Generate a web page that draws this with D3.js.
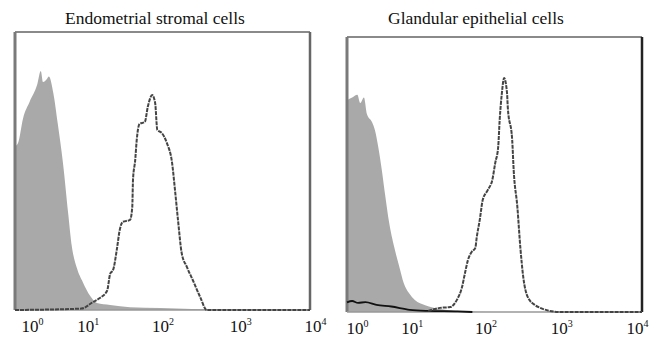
<!DOCTYPE html>
<html>
<head>
<meta charset="utf-8">
<script src="https://cdn.jsdelivr.net/npm/d3@7"></script>
<style>
  html, body { margin: 0; padding: 0; background: #fff; }
  svg { display: block; }
</style>
</head>
<body>
<svg id="chart" width="650" height="347"></svg>
<script>
// x values are decade exponents (10^x fluorescence), y values are relative cell counts (0-100)
const decades = [0, 1, 2, 3, 4];
const panelTitles = ['Endometrial stromal cells', 'Glandular epithelial cells'];

// Endometrial stromal cells: isotype control (filled) and stained (open)
const stromalControl = [
  [0, 59], [0.04, 60], [0.11, 69], [0.2, 75], [0.3, 81], [0.35, 86], [0.38, 82],
  [0.43, 83], [0.46, 84], [0.52, 78], [0.58, 67], [0.65, 53], [0.72, 35],
  [0.77, 23], [0.84, 15], [0.92, 10], [1.02, 5], [1.11, 2.5], [1.29, 1.8],
  [1.56, 1], [1.97, 0.7], [2.4, 0.4], [3, 0.2], [4, 0]
];
const stromalStained = [
  [0, 0], [0.9, 0.5], [1.06, 2.9], [1.15, 4.3], [1.25, 7], [1.29, 13], [1.33, 14.4],
  [1.38, 21.6], [1.42, 28.8], [1.46, 31.7], [1.56, 32.4], [1.59, 37], [1.6, 46.8],
  [1.63, 54], [1.65, 61], [1.69, 67], [1.76, 67.6], [1.8, 73], [1.86, 77.3],
  [1.9, 74.5], [1.93, 64.7], [1.99, 63.7], [2.06, 60], [2.13, 52.9], [2.17, 43],
  [2.21, 32.4], [2.26, 20.5], [2.33, 15.5], [2.41, 10.8], [2.51, 4.7], [2.6, 0],
  [4, 0]
];

// Glandular epithelial cells: isotype control (filled), unstained (black) and stained (open)
const glandControl = [
  [0, 77], [0.07, 78], [0.14, 79], [0.18, 76], [0.23, 78], [0.27, 72], [0.34, 69],
  [0.38, 66], [0.43, 59], [0.47, 52], [0.52, 42], [0.57, 32.7], [0.64, 23.6],
  [0.71, 16.4], [0.77, 10.5], [0.84, 6.9], [0.92, 4.4], [1.06, 2.5], [1.26, 1.1],
  [1.53, 0.4], [2, 0], [4, 0]
];
const glandBlank = [
  [0, 3.5], [0.07, 4], [0.15, 3.3], [0.25, 3.6], [0.4, 2.6], [0.6, 2],
  [0.85, 0.8], [1.1, 0.4], [1.5, 0.2], [1.7, 0]
];
const glandStained = [
  [1.1, 0.4], [1.26, 1.5], [1.4, 1.8], [1.49, 4.4], [1.56, 9.1], [1.6, 14.2],
  [1.64, 18.9], [1.69, 21.8], [1.74, 23.3], [1.76, 27.3], [1.8, 33.5], [1.84, 40.7],
  [1.91, 44.4], [1.97, 48], [2.01, 54.2], [2.05, 60], [2.07, 69.8], [2.1, 79.6],
  [2.13, 85.1], [2.17, 79.6], [2.18, 74.5], [2.24, 62.5], [2.26, 51.6], [2.31, 38.2],
  [2.35, 23.6], [2.39, 12.7], [2.45, 5.5], [2.55, 2.5], [2.62, 1.5], [2.75, 0.4],
  [2.9, 0], [4, 0]
];

const panels = [
  { left: 15, right: 310, top: 32, bottom: 310, titleX: 50, titleY: 24,
    labelShift: [17, -1, 0, 4, 5], rightEdge: '#666',
    filled: stromalControl, open: stromalStained, solid: null },
  { left: 347, right: 642, top: 37, bottom: 312, titleX: 41, titleY: 24,
    labelShift: [10, -9, -9, -7, -5], rightEdge: '#222',
    filled: glandControl, open: glandStained, solid: glandBlank }
];

const svg = d3.select('#chart');
const serif = "'Liberation Serif', 'Times New Roman', serif";

panels.forEach((p, i) => {
  const w = p.right - p.left;
  const h = p.bottom - p.top;
  const g = svg.append('g').attr('transform', `translate(${p.left},${p.top})`);

  const x = d3.scaleLog().domain([1, 1e4]).range([0, w]);
  const y = d3.scaleLinear().domain([0, 100]).range([h, 0]);

  const area = d3.area()
    .x(d => x(10 ** d[0]))
    .y0(h)
    .y1(d => y(d[1]))
    .curve(d3.curveMonotoneX);
  const line = d3.line()
    .x(d => x(10 ** d[0]))
    .y(d => y(d[1]))
    .curve(d3.curveMonotoneX);

  // isotype control, filled grey
  g.append('path').datum(p.filled)
    .attr('fill', '#a9a9a9')
    .attr('d', area);

  // frame
  g.append('line').attr('x1', 0).attr('x2', w).attr('y1', 0).attr('y2', 0)
    .attr('stroke', '#8a8a8a').attr('stroke-width', 2);
  g.append('line').attr('x1', 0).attr('x2', 0).attr('y1', 0).attr('y2', h)
    .attr('stroke', '#7a7a7a').attr('stroke-width', 3);
  g.append('line').attr('x1', w).attr('x2', w).attr('y1', 0).attr('y2', h)
    .attr('stroke', p.rightEdge).attr('stroke-width', 2.5);
  g.append('line').attr('x1', 0).attr('x2', w).attr('y1', h).attr('y2', h)
    .attr('stroke', '#999').attr('stroke-width', 1.5);

  if (p.solid) {
    g.append('path').datum(p.solid)
      .attr('fill', 'none')
      .attr('stroke', '#111')
      .attr('stroke-width', 1.8)
      .attr('d', line);
  }

  // stained sample, open histogram
  g.append('path').datum(p.open)
    .attr('fill', 'none')
    .attr('stroke', '#444')
    .attr('stroke-width', 2)
    .attr('stroke-dasharray', '4,1')
    .attr('d', line);

  // x axis: decade labels 10^n
  const axis = g.append('g')
    .attr('transform', `translate(0,${h})`)
    .call(d3.axisBottom(x).tickValues(decades.map(d => 10 ** d)).tickSize(0).tickFormat(() => ''));
  axis.select('.domain').remove();
  axis.selectAll('.tick text').each(function (d, k) {
    const t = d3.select(this)
      .attr('x', p.labelShift[k])
      .attr('y', 0)
      .attr('dy', 0)
      .attr('transform', 'translate(0,22)')
      .attr('fill', '#111')
      .attr('font-family', serif)
      .attr('font-size', 17)
      .attr('text-anchor', 'middle');
    t.append('tspan').text('10');
    t.append('tspan').attr('dy', -7).attr('font-size', 10).text(decades[k]);
  });

  g.append('text')
    .attr('x', p.titleX)
    .attr('y', p.titleY - p.top)
    .attr('font-family', serif)
    .attr('font-size', 17.5)
    .attr('fill', '#111')
    .text(panelTitles[i]);
});
</script>
</body>
</html>
